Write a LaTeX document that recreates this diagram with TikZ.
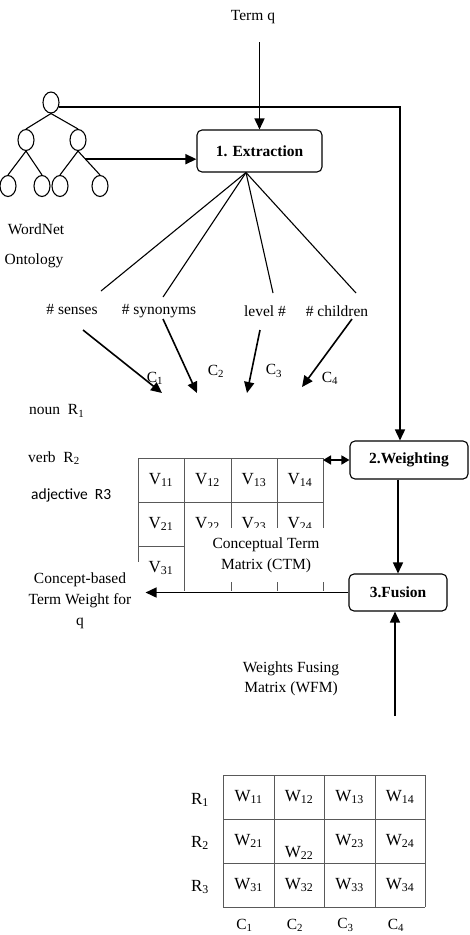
\documentclass[tikz,border=0pt]{standalone}
\usepackage{fontspec}
\setmainfont{Liberation Serif}
\newfontfamily\calibrifont{Carlito}
\usetikzlibrary{arrows.meta,shapes.geometric,calc}

\begin{document}
\begin{tikzpicture}[x=1pt,y=-1pt,
    txt/.style={font=\fontsize{15.5}{21}\selectfont,inner sep=0pt},
    cell/.style={font=\fontsize{17}{20}\selectfont,inner sep=0pt},
    stage/.style={draw,rounded corners=5pt,line width=1.1pt,inner sep=0pt,
        font=\fontsize{15.5}{18}\selectfont\bfseries},
    knot/.style={draw,ellipse,line width=1.1pt,minimum width=16pt,minimum height=21pt,inner sep=0pt},
    link/.style={line width=1.1pt},
    cellline/.style={line width=0.8pt,draw=black!65},
    flow/.style={line width=1.6pt,-{Triangle[length=11pt,width=10pt]}},
    both/.style={line width=1.6pt,{Triangle[length=8pt,width=9pt]}-{Triangle[length=8pt,width=9pt]}}]
    \useasboundingbox (0,0) rectangle (469,935);

    \node[txt] (term) at (253,17) {Term q};
    \node[stage,minimum width=125pt,minimum height=42pt] (ext) at (259.5,151) {1. Extraction};
    \node[stage,minimum width=118pt,minimum height=38pt] (wgt) at (409,460) {2.Weighting};
    \node[stage,minimum width=98pt,minimum height=37pt] (fus) at (398,592.5) {3.Fusion};

    % WordNet tree
    \node[knot] (root) at (51,102.5) {};
    \node[knot] (n1) at (26,140) {};
    \node[knot] (n2) at (78,140) {};
    \node[knot] (l1) at (8,186) {};
    \node[knot] (l2) at (42,186) {};
    \node[knot] (l3) at (60,186) {};
    \node[knot] (l4) at (100,186) {};
    \draw[link] (root.south) -- (n1.north) (root.south) -- (n2.north)
        (n1.south) -- (l1.north) (n1.south) -- (l2.north)
        (n2.south) -- (l3.north) (n2.south) -- (l4.north);
    \node[txt] (wn) at (36,229) {WordNet};
    \node[txt] (onto) at (34,261) {Ontology};

    \draw[flow] (ext.north |- 0,42) -- (ext.north);
    \draw[flow] (root.-30) -| ([xshift=-9pt]wgt.north);
    \coordinate (br) at ($(n2.south)!0.34!(l4.north)$);
    \draw[flow] (br) -- (br -| ext.west);

    % features
    \coordinate (apex) at ([xshift=-13.5pt]ext.south);
    \node[txt] (sen) at (72,309) {\# senses};
    \node[txt] (syn) at (159,311) {\# synonyms};
    \node[txt] (lev) at (265,311) {level \#};
    \node[txt] (chi) at (337,311) {\# children};
    \foreach \n/\x/\y in {sen/101/291,syn/163/297,lev/273/293,chi/356/293}
        \coordinate (top\n) at (\x,\y);
    \foreach \n in {sen,syn,lev,chi}
        \draw[link] (apex) -- (top\n);

    \node[txt] (c1) at (155,378) {C\textsubscript{1}};
    \node[txt] (c2) at (216,371) {C\textsubscript{2}};
    \node[txt] (c3) at (274,371) {C\textsubscript{3}};
    \node[txt] (c4) at (330,378) {C\textsubscript{4}};
    \foreach \n/\xa/\ya/\xb/\yb in {sen/83/330/162/393,syn/163/319/197/393,
        lev/260/330/247/393,chi/352/319/302/387} {
        \coordinate (from\n) at (\xa,\ya);
        \coordinate (to\n) at (\xb,\yb);
        \draw[flow] (from\n) -- (to\n);
    }

    \node[txt,anchor=west] (noun) at (29,411) {noun\ \ R\textsubscript{1}};
    \node[txt,anchor=west] (verb) at (28,458) {verb\ \ R\textsubscript{2}};
    \node[txt,anchor=west,font=\calibrifont\fontsize{15.5}{18}\selectfont] (adj) at (31,495) {adjective\ \ R3};

    % conceptual term matrix
    \foreach \y in {458,502}
        \draw[cellline] (138,\y) -- (323,\y);
    \foreach \x in {184,231,277,323}
        \draw[cellline] (\x,458) -- (\x,591);
    \draw[cellline] (138,458) -- (138,562) (138,546) -- (184,546);
    \foreach \c [count=\i] in {161,207.5,254,300} {
        \node[cell] (v1\i) at (\c,480) {V\textsubscript{1\i}};
        \node[cell] (v2\i) at (\c,524) {V\textsubscript{2\i}};
    }
    \node[cell] (v31) at (161,568) {V\textsubscript{31}};
    \node[txt,fill=white,align=center,minimum width=158pt,minimum height=54pt] (ctm) at (266,555)
        {Conceptual Term\\Matrix (CTM)};
    \coordinate (ctmne) at (323,460);
    \draw[both] (ctmne) -- (wgt.west);

    \draw[flow] (fus.north |- wgt.south) -- (fus.north);
    \node[txt,align=center] (cbtw) at (80,601) {Concept-based\\Term Weight for\\q};
    \draw[flow] (fus.west) -- ([xshift=14pt]cbtw.east |- fus.west);

    % weights fusing matrix
    \node[txt,align=center,font=\fontsize{15.5}{20}\selectfont] (wfm) at (291,679) {Weights Fusing\\Matrix (WFM)};
    \coordinate (wfmtop) at (395,716);
    \draw[flow] (wfmtop) -- (wfmtop |- fus.south);
    \foreach \x in {223,274,324,375,425}
        \draw[cellline] (\x,775) -- (\x,907);
    \foreach \y in {775,819,863,907}
        \draw[cellline] (223,\y) -- (425,\y);
    \foreach \c [count=\j] in {248.5,299,349.5,400} {
        \node[cell] (w1\j) at (\c,797) {W\textsubscript{1\j}};
        \node[cell] (w3\j) at (\c,885) {W\textsubscript{3\j}};
        \node[txt] (cb\j) at (\c-4,925) {C\textsubscript{\j}};
    }
    \node[cell] (w21) at (248.5,841) {W\textsubscript{21}};
    \node[cell] (w22) at (299,853) {W\textsubscript{22}};
    \node[cell] (w23) at (349.5,841) {W\textsubscript{23}};
    \node[cell] (w24) at (400,841) {W\textsubscript{24}};
    \foreach \r/\y in {1/800,2/843,3/887}
        \node[cell] (r\r) at (200,\y) {R\textsubscript{\r}};
\end{tikzpicture}
\end{document}
